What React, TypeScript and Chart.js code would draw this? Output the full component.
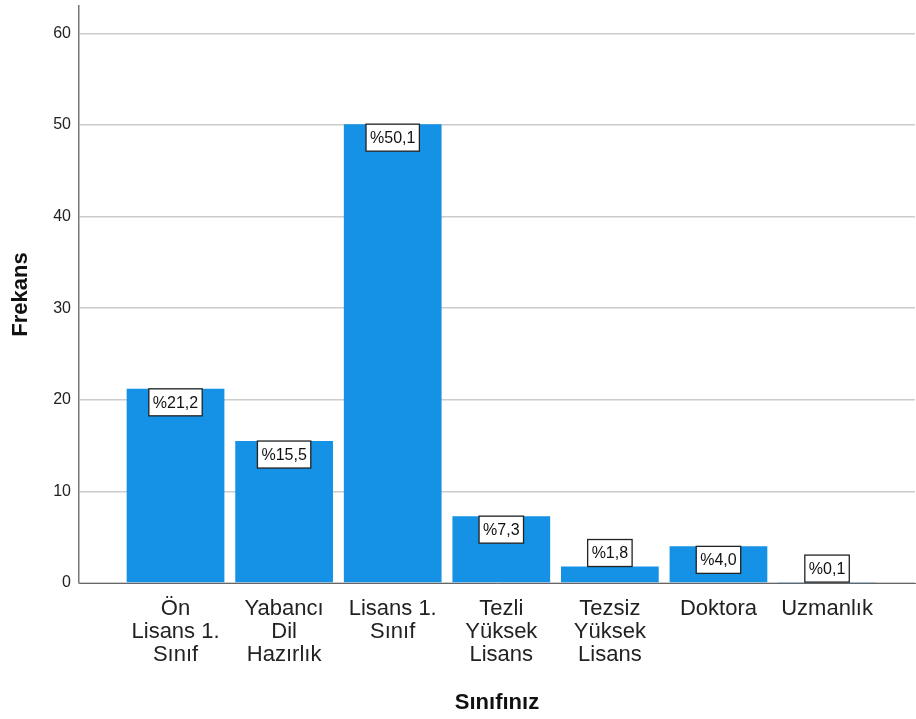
import React, { useEffect, useRef } from "react";
import { Chart, registerables } from "chart.js";

Chart.register(...registerables);

const categories: string[][] = [
  ["Ön", "Lisans 1.", "Sınıf"],
  ["Yabancı", "Dil", "Hazırlık"],
  ["Lisans 1.", "Sınıf"],
  ["Tezli", "Yüksek", "Lisans"],
  ["Tezsiz", "Yüksek", "Lisans"],
  ["Doktora"],
  ["Uzmanlık"],
];
const frequencies: number[] = [21.2, 15.5, 50.1, 7.3, 1.8, 4.0, 0.1];
const percentLabels: string[] = ["%21,2", "%15,5", "%50,1", "%7,3", "%1,8", "%4,0", "%0,1"];
const yTicks: number[] = [0, 10, 20, 30, 40, 50, 60];

const FONT = "'Liberation Sans', Arial, sans-serif";

const labelPlugin = {
  id: "pctLabels",
  afterDatasetsDraw(chart: any) {
    const ctx = chart.ctx;
    const meta = chart.getDatasetMeta(0);
    const base = chart.scales.y.getPixelForValue(0);
    ctx.save();
    ctx.font = `16px ${FONT}`;
    ctx.textAlign = "center";
    ctx.textBaseline = "middle";
    meta.data.forEach((el: any, i: number) => {
      const text = percentLabels[i];
      const tw = ctx.measureText(text).width;
      const w = tw + 8;
      const h = 27;
      let top = el.y;
      if (top + h > base) top = el.y - h;
      const left = el.x - w / 2;
      ctx.fillStyle = "#ffffff";
      ctx.fillRect(left, top, w, h);
      ctx.strokeStyle = "#222222";
      ctx.lineWidth = 1.3;
      ctx.strokeRect(left, top, w, h);
      ctx.fillStyle = "#111111";
      ctx.fillText(text, el.x, top + h / 2 + 1);
    });
    ctx.restore();
  },
};

export default function App() {
  const ref = useRef<HTMLCanvasElement | null>(null);
  useEffect(() => {
    document.body.style.margin = "0";
    if (!ref.current) return;
    const chart = new Chart(ref.current, {
      type: "bar",
      data: {
        datasets: [
          {
            data: frequencies.map((v, i) => ({ x: i, y: v })),
            backgroundColor: "#1591e5",
            borderWidth: 0,
            barPercentage: 0.9,
            categoryPercentage: 1,
          },
        ],
      },
      options: {
        animation: false,
        responsive: true,
        maintainAspectRatio: false,
        layout: { padding: { top: 6, right: 1, left: 0, bottom: 0 } },
        plugins: { legend: { display: false }, tooltip: { enabled: false } },
        scales: {
          x: {
            type: "linear",
            offset: false,
            min: -0.889,
            max: 6.81,
            afterFit: (s: any) => {
              s.height = 136;
              s.paddingLeft = 0;
              s.paddingRight = 0;
            },
            grid: { display: false, drawTicks: false },
            border: { display: true, color: "#666666", width: 1 },
            ticks: {
              stepSize: 1,
              includeBounds: false,
              autoSkip: false,
              maxRotation: 0,
              padding: 14,
              color: "#222222",
              font: { family: FONT, size: 22, lineHeight: 1.05 },
              callback: (v: any) => {
                const n = Number(v);
                return Number.isInteger(n) && categories[n] ? categories[n] : "";
              },
            },
            title: {
              display: true,
              text: "Sınıfınız",
              color: "#111111",
              font: { family: FONT, size: 22, weight: "bold" },
              padding: { top: 0, bottom: 3 },
            },
          },
          y: {
            min: 0,
            max: 63,
            afterFit: (s: any) => {
              s.width = 79;
              s.paddingTop = 0;
              s.paddingBottom = 0;
            },
            afterBuildTicks: (s: any) => {
              s.ticks = yTicks.map((v) => ({ value: v }));
            },
            grid: { color: "#cccccc", lineWidth: 1.5, drawTicks: false },
            border: { display: true, color: "#777777", width: 1.5 },
            ticks: {
              padding: 8,
              color: "#222222",
              font: { family: FONT, size: 16 },
            },
            title: {
              display: true,
              text: "Frekans",
              color: "#111111",
              font: { family: FONT, size: 22, weight: "bold" },
              padding: { top: 8, bottom: 0 },
            },
          },
        },
      },
      plugins: [labelPlugin],
    } as any);
    return () => chart.destroy();
  }, []);
  return (
    <div style={{ position: "absolute", left: 0, top: 0, width: 916, height: 719 }}>
      <canvas ref={ref} />
    </div>
  );
}
